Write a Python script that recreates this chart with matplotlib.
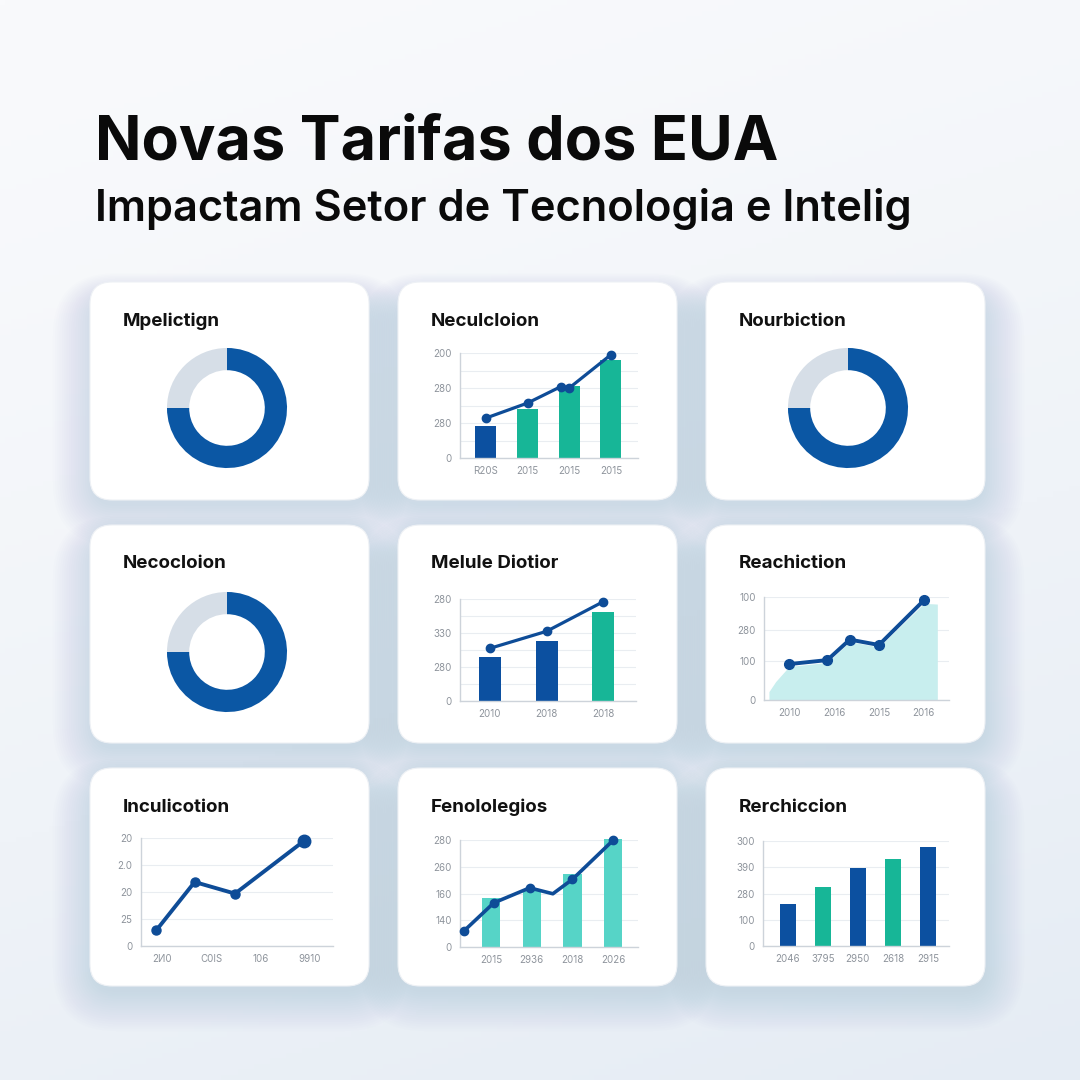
import numpy as np
import matplotlib
matplotlib.use("Agg")
from matplotlib import pyplot as plt
from matplotlib.patches import FancyBboxPatch
from matplotlib.ticker import MultipleLocator

plt.rcParams['font.family'] = ['Inter', 'DejaVu Sans']

W = H = 1080

BLUE = '#0C50A0'
RING = '#0B57A4'
LINE = '#0E4C97'
TEAL = '#17B697'
AQUA = '#56D4C7'
AREA = '#C8EEEE'
RING_GREY = '#D6DEE7'
GRID = '#E9EDF1'
SPINE = '#CDD3DA'
TICK = '#8E949C'

title = "Novas Tarifas dos EUA"
subtitle = "Impactam Setor de Tecnologia e Intelig"

card_titles = ["Mpelictign", "Neculcloion", "Nourbiction",
               "Necocloion", "Melule Diotior", "Reachiction",
               "Inculicotion", "Fenololegios", "Rerchiccion"]

# donut cards (1, 3, 4)
donut_shares = [75, 25]

# card 2: bars + line
c2_years = ['R20S', '2015', '2015', '2015']
c2_bars = [92, 140, 207, 279]
c2_line_x = [0, 1, 1.8, 2, 3]
c2_line_y = [114, 157, 204, 200, 295]
c2_ylabels = ['0', '280', '280', '200']

# card 5: bars + line
c5_years = ['2010', '2018', '2018']
c5_bars = [130, 176, 263]
c5_line = [155, 205, 292]
c5_ylabels = ['0', '280', '330', '280']

# card 6: area + line
c6_years = ['2010', '2016', '2015', '2016']
c6_line_x = [0, 0.85, 1.35, 2, 3]
c6_line_y = [107, 119, 180, 164, 297]
c6_area_x = [-0.45, -0.3, 0, 0.85, 1.35, 2, 3, 3.3]
c6_area_y = [25, 55, 100, 112, 174, 158, 288, 286]
c6_yticks = [0, 117, 209, 307]
c6_ylabels = ['0', '100', '280', '100']

# card 7: line
c7_years = ['2И0', 'C0IS', '106', '9910']
c7_line_x = [-0.12, 0.66, 1.48, 2.88]
c7_line_y = [0.58, 2.37, 1.94, 3.89]
c7_ylabels = ['0', '25', '20', '2.0', '20']

# card 8: bars + line
c8_years = ['2015', '2936', '2018', '2026']
c8_bars = [1.84, 2.11, 2.74, 4.03]
c8_line_x = [-0.67, 0.07, 0.95, 1.52, 2.0, 3.0]
c8_line_y = [0.59, 1.65, 2.21, 1.99, 2.53, 3.99]
c8_ylabels = ['0', '140', '160', '260', '280']

# card 9: bars
c9_years = ['2046', '3795', '2950', '2618', '2915']
c9_bars = [1.59, 2.25, 2.98, 3.30, 3.79]
c9_ylabels = ['0', '100', '280', '390', '300']

fig = plt.figure(figsize=(10.8, 10.8), dpi=100)

# background, drawn in pixel coordinates
bg = fig.add_axes([0, 0, 1, 1])
bg.set_xlim(0, W)
bg.set_ylim(H, 0)
bg.axis('off')
yy, xx = np.mgrid[0:1:200j, 0:1:200j]
t = np.clip(0.75 * yy + 0.25 * xx, 0, 1) ** 1.3
top_c = np.array([249, 250, 252]) / 255
bot_c = np.array([229, 236, 244]) / 255
grad = top_c[None, None, :] * (1 - t[..., None]) + bot_c[None, None, :] * t[..., None]
bg.imshow(grad, extent=[0, W, H, 0], aspect='auto', zorder=0)

card_x = [90, 398, 706]
card_y = [282, 525, 768]
card_w, card_h = 279, 218

for r in range(3):
    for c in range(3):
        x0, y0 = card_x[c], card_y[r]
        # soft shadow, pushed down so little shows above the card
        for i in range(18):
            pad = 2 + i * 2.3
            bg.add_patch(FancyBboxPatch((x0 - pad + 4, y0 - pad * 0.6 + 16), card_w + 2 * pad - 6,
                                        card_h + 1.6 * pad - 12,
                                        boxstyle="round,pad=0,rounding_size=%f" % (22 + pad),
                                        fc='#98B2D4', ec='none', alpha=0.02, zorder=1))
        bg.add_patch(FancyBboxPatch((x0, y0), card_w, card_h,
                                    boxstyle="round,pad=0,rounding_size=22",
                                    fc='#FFFFFF', ec='#EEF1F5', lw=0.8, zorder=2))
        fig.text((x0 + 33) / W, 1 - (y0 + 39) / H, card_titles[r * 3 + c],
                 fontsize=13.5, fontweight='bold', color='#111111', va='center', ha='left')

fig.text(95 / W, 1 - 160 / H, title, fontsize=44, fontweight='bold', color='#0A0A0A', va='baseline')
fig.text(95 / W, 1 - 221 / H, subtitle, fontsize=31.3, fontweight='semibold', color='#0A0A0A', va='baseline')


def px_axes(left, top, right, bottom):
    return fig.add_axes([left / W, 1 - bottom / H, (right - left) / W, (bottom - top) / H])


def style(ax, xlim, ylim, yticks, ylabels, xlabels, minor=None):
    ax.set_facecolor('none')
    ax.set_xlim(xlim)
    ax.set_ylim(ylim)
    ax.set_yticks(yticks)
    ax.set_yticklabels(ylabels)
    ax.set_xticks(range(len(xlabels)))
    ax.set_xticklabels(xlabels)
    for s in ['top', 'right']:
        ax.spines[s].set_visible(False)
    for s in ['left', 'bottom']:
        ax.spines[s].set_color(SPINE)
        ax.spines[s].set_linewidth(1.0)
    ax.tick_params(length=0, labelsize=7, colors=TICK)
    ax.tick_params(axis='y', pad=6)
    ax.tick_params(axis='x', pad=6)
    ax.grid(axis='y', color=GRID, lw=0.8)
    if minor:
        ax.yaxis.set_minor_locator(MultipleLocator(minor))
        ax.tick_params(which='minor', length=0)
        ax.grid(axis='y', which='minor', color=GRID, lw=0.8)
    ax.set_axisbelow(True)


def donut(cx, cy):
    ax = px_axes(cx - 62, cy - 62, cx + 62, cy + 62)
    ax.pie(donut_shares, colors=[RING, RING_GREY], startangle=90, counterclock=False,
           wedgeprops=dict(width=0.37, edgecolor='none'))
    ax.set_xlim(-1.033, 1.033)
    ax.set_ylim(-1.033, 1.033)
    ax.set_aspect('equal')
    ax.axis('off')


donut(227, 408)
donut(848, 408)
donut(227, 652)

# card 2
ax = px_axes(460, 353, 638, 458)
style(ax, (-0.62, 3.65), (0, 300), [0, 100, 200, 300], c2_ylabels, c2_years, minor=50)
ax.bar(range(4), c2_bars, width=0.5, color=[BLUE, TEAL, TEAL, TEAL], zorder=2)
ax.plot(c2_line_x, c2_line_y, color=LINE, lw=2.3, marker='o', ms=6, zorder=3, clip_on=False)

# card 5
ax = px_axes(460, 599, 636, 701)
style(ax, (-0.53, 2.58), (0, 300), [0, 100, 200, 300], c5_ylabels, c5_years, minor=50)
ax.bar(range(3), c5_bars, width=0.39, color=[BLUE, BLUE, TEAL], zorder=2)
ax.plot(range(3), c5_line, color=LINE, lw=2.3, marker='o', ms=6, zorder=3, clip_on=False)

# card 6
ax = px_axes(764, 597, 949, 700)
style(ax, (-0.56, 3.56), (0, 307), c6_yticks, c6_ylabels, c6_years)
ax.fill_between(c6_area_x, c6_area_y, color=AREA, lw=0, zorder=2)
ax.plot(c6_line_x, c6_line_y, color=LINE, lw=2.8, marker='o', ms=7, zorder=3, clip_on=False)

# card 7
ax = px_axes(141, 838, 333, 946)
style(ax, (-0.43, 3.47), (0, 4), [0, 1, 2, 3, 4], c7_ylabels, c7_years)
ax.plot(c7_line_x, c7_line_y, color=LINE, lw=2.8, marker='o', ms=6.5, zorder=3, clip_on=False)
ax.plot(c7_line_x[-1:], c7_line_y[-1:], color=LINE, marker='o', ms=9, zorder=4, clip_on=False)

# card 8
ax = px_axes(460, 840, 638, 947)
style(ax, (-0.76, 3.61), (0, 4), [0, 1, 2, 3, 4], c8_ylabels, c8_years)
ax.bar(range(4), c8_bars, width=0.45, color=AQUA, zorder=2, clip_on=False)
ax.plot(c8_line_x, c8_line_y, color=LINE, lw=2.6, zorder=3, clip_on=False)
ax.plot([c8_line_x[i] for i in (0, 1, 2, 4, 5)], [c8_line_y[i] for i in (0, 1, 2, 4, 5)],
        ls='none', color=LINE, marker='o', ms=6, zorder=4, clip_on=False)

# card 9
ax = px_axes(763, 841, 949, 946)
style(ax, (-0.71, 4.6), (0, 4), [0, 1, 2, 3, 4], c9_ylabels, c9_years)
ax.bar(range(5), c9_bars, width=0.46, color=[BLUE, TEAL, BLUE, TEAL, BLUE], zorder=2)

fig.savefig('out.png', dpi=100)
